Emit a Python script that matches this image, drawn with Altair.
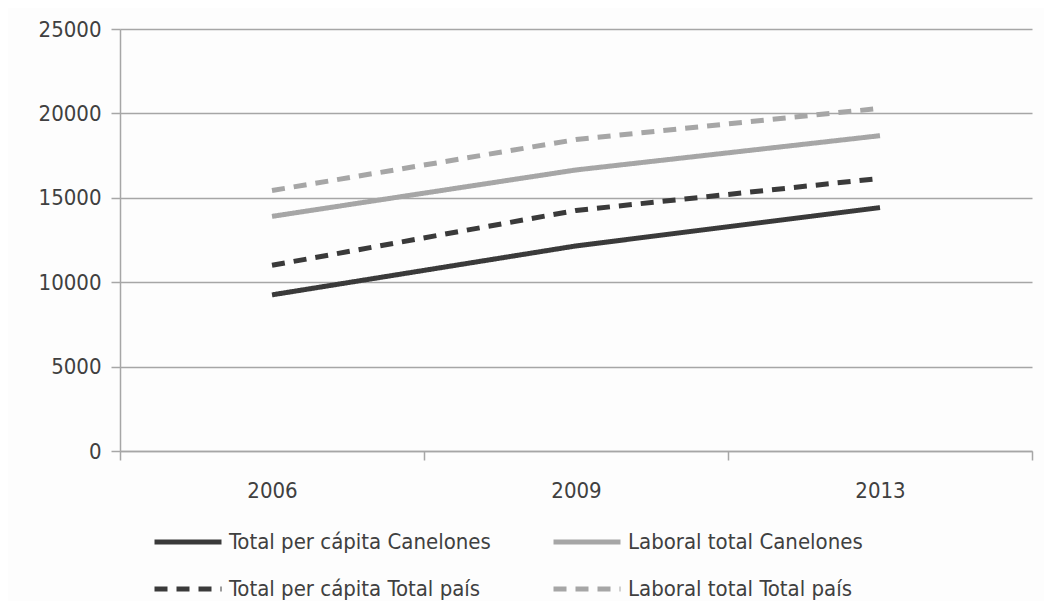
import json
import altair as alt
import pandas as pd

years = ["2006", "2009", "2013"]
series_names = [
    "Total per cápita Canelones",
    "Laboral total Canelones",
    "Total per cápita Total país",
    "Laboral total Total país",
]
total_pc_canelones = [9250, 12150, 14420]
laboral_canelones = [13900, 16650, 18680]
total_pc_pais = [11000, 14250, 16150]
laboral_pais = [15430, 18450, 20300]

series_values = [total_pc_canelones, laboral_canelones, total_pc_pais, laboral_pais]
rows = []
for name, vals in zip(series_names, series_values):
    for i, (yr, v) in enumerate(zip(years, vals)):
        rows.append({"serie": name, "year": yr, "idx": i, "value": v})
df = pd.DataFrame(rows)

FONT = "DejaVu Sans Condensed"
FS = 22
TEXT = "#404040"
GRID = "#a6a6a6"
DARK = "#3a3a3a"
LIGHT = "#a6a6a6"

label_expr = "datum.value % 1 === 0 ? " + json.dumps(years) + "[datum.value] : ''"

legend_kw = dict(
    orient="none",
    legendX=32,
    legendY=477,
    columns=2,
    direction="horizontal",
    symbolType="stroke",
    symbolSize=4489,
    symbolStrokeWidth=5,
    labelFont=FONT,
    labelFontSize=FS,
    labelColor=TEXT,
    labelOffset=5,
    labelLimit=400,
    columnPadding=52,
    rowPadding=-50,
    title=None,
)

chart = (
    alt.Chart(df)
    .mark_line(strokeWidth=5, strokeCap="butt")
    .encode(
        x=alt.X(
            "idx:Q",
            scale=alt.Scale(domain=[-0.5, len(years) - 0.5], nice=False, zero=False),
            axis=alt.Axis(
                values=[-0.5, 0, 0.5, 1, 1.5, 2, 2.5],
                labelExpr=label_expr,
                tickOpacity={"condition": {"test": "datum.value % 1 === 0", "value": 0}, "value": 1},
                tickSize=9,
                tickWidth=1.5,
                tickColor=GRID,
                domainColor=GRID,
                domainWidth=1.5,
                grid=False,
                labelFont=FONT,
                labelFontSize=FS,
                labelColor=TEXT,
                labelPadding=20,
                labelFlush=False,
                labelOverlap=False,
                title=None,
            ),
        ),
        y=alt.Y(
            "value:Q",
            scale=alt.Scale(domain=[0, 25000], nice=False),
            axis=alt.Axis(
                values=[0, 5000, 10000, 15000, 20000, 25000],
                format="d",
                grid=True,
                gridColor=GRID,
                gridWidth=1.5,
                tickSize=9,
                tickWidth=1.5,
                tickColor=GRID,
                domainColor=GRID,
                domainWidth=1.5,
                labelFont=FONT,
                labelFontSize=FS,
                labelColor=TEXT,
                labelPadding=10,
                title=None,
            ),
        ),
        color=alt.Color(
            "serie:N",
            scale=alt.Scale(domain=series_names, range=[DARK, LIGHT, DARK, LIGHT]),
            legend=alt.Legend(**legend_kw),
        ),
        strokeDash=alt.StrokeDash(
            "serie:N",
            scale=alt.Scale(domain=series_names, range=[[1, 0], [1, 0], [13, 9], [13, 9]]),
            legend=alt.Legend(**legend_kw),
        ),
        order="idx:Q",
    )
    .properties(
        width=912,
        height=422,
        autosize=alt.AutoSizeParams(type="none"),
        padding={"left": 112, "top": 21, "right": 12, "bottom": 150},
        background="#fdfdfd",
    )
    .configure_view(stroke=None)
)

chart.save("out.html", embed_options={"renderer": "svg", "actions": False})
